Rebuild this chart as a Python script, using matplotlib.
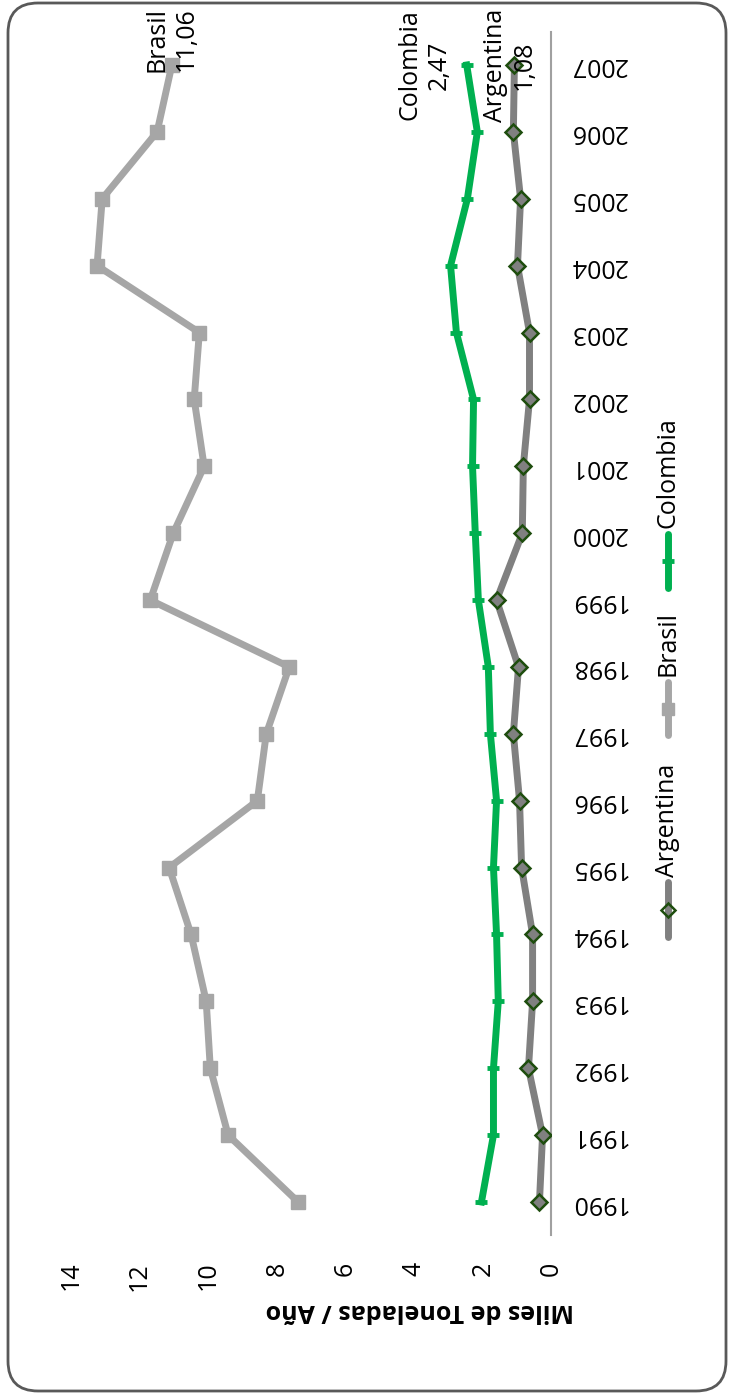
import matplotlib.pyplot as plt
from matplotlib.lines import Line2D
from matplotlib.patches import FancyBboxPatch

plt.rcParams['font.family'] = ['Open Sans', 'DejaVu Sans']

years = list(range(1990, 2008))
argentina = [0.35, 0.26, 0.67, 0.55, 0.55, 0.87, 0.93, 1.11, 0.96, 1.60,
             0.85, 0.82, 0.64, 0.64, 0.99, 0.90, 1.11, 1.08]
brasil = [7.38, 9.42, 9.94, 10.06, 10.50, 11.14, 8.57, 8.31, 7.64, 11.69,
          11.02, 10.12, 10.41, 10.26, 13.24, 13.09, 11.49, 11.06]
colombia = [2.04, 1.69, 1.69, 1.55, 1.60, 1.69, 1.60, 1.78, 1.84, 2.13,
            2.22, 2.30, 2.27, 2.77, 2.94, 2.45, 2.16, 2.47]
value_ticks = [0, 2, 4, 6, 8, 10, 12, 14]

c_arg = '#808080'
c_bra = '#A6A6A6'
c_col = '#00B050'
edge_arg = '#1E4D0E'

fig = plt.figure(figsize=(7.31, 13.96), dpi=100)

# rounded chart border
frame = FancyBboxPatch((0.08, 0.05), 7.18, 13.88, boxstyle='round,pad=0,rounding_size=0.3',
                       transform=fig.dpi_scale_trans, fill=False, edgecolor='#595959', linewidth=2)
fig.patches.append(frame)

ax = fig.add_axes([0.0971, 0.1150, 0.6573, 0.8624])

ax.plot(argentina, years, color=c_arg, lw=5, marker='D', ms=8,
        markerfacecolor=c_arg, markeredgecolor=edge_arg, markeredgewidth=1.8, zorder=3)
ax.plot(brasil, years, color=c_bra, lw=5, marker='s', ms=10,
        markerfacecolor=c_bra, markeredgecolor=c_bra, zorder=3)
ax.plot(colombia, years, color=c_col, lw=5, marker='_', ms=9, mew=3.5, zorder=3)

ax.set_xlim(14, 0)
ax.set_ylim(1989.5, 2007.5)

for s in ['top', 'left', 'bottom']:
    ax.spines[s].set_visible(False)
ax.spines['right'].set_color('#A0A0A0')
ax.spines['right'].set_linewidth(1.5)

ax.set_xticks(value_ticks)
ax.set_xticklabels([str(v) for v in value_ticks], rotation=90, fontsize=18)
ax.tick_params(axis='x', length=0, pad=19)

ax.yaxis.tick_right()
ax.set_yticks(years)
ax.set_yticklabels([str(y) for y in years], rotation=180, fontsize=18, ha='left', va='center')
ax.tick_params(axis='y', length=0, pad=13)

fig.text(420 / 731, 1 - 1311 / 1396, 'Miles de Toneladas / Año', rotation=180,
         ha='center', va='center', fontsize=18, fontweight='bold')

# data labels on the last year
ax.annotate('Brasil\n11,06', (brasil[-1], years[-1]), xytext=(0, -7), textcoords='offset pixels',
            rotation=90, ha='center', va='bottom', multialignment='center', fontsize=18)
ax.annotate('Colombia\n2,47', (colombia[-1], years[-1]), xytext=(-15, 0), textcoords='offset pixels',
            rotation=90, ha='right', va='center', multialignment='center', fontsize=18)
ax.annotate('Argentina\n1,08', (argentina[-1], years[-1]), xytext=(-5, 0), textcoords='offset pixels',
            rotation=90, ha='center', va='center', multialignment='center', fontsize=18)

# legend drawn vertically
lx = 668 / 731
entries = [
    ('Argentina', c_arg, dict(marker='D', ms=7, markerfacecolor='none', markeredgecolor=edge_arg, mew=1.8), 882, 937, 877),
    ('Brasil', c_bra, dict(marker='s', ms=9, markerfacecolor=c_bra, markeredgecolor=c_bra), 682, 735, 676),
    ('Colombia', c_col, dict(marker='_', ms=8, mew=3.5), 534, 588, 528),
]
for name, col, mk, y0, y1, ytext in entries:
    fig.add_artist(Line2D([lx, lx], [1 - y0 / 1396, 1 - y1 / 1396], color=col, lw=5,
                          solid_capstyle='round', transform=fig.transFigure))
    ym = (y0 + y1) / 2
    fig.add_artist(Line2D([lx], [1 - ym / 1396], color=col, transform=fig.transFigure, **mk))
    fig.text(lx, 1 - ytext / 1396, name, rotation=90, ha='center', va='bottom', fontsize=18)

fig.savefig('out.png', dpi=100)
